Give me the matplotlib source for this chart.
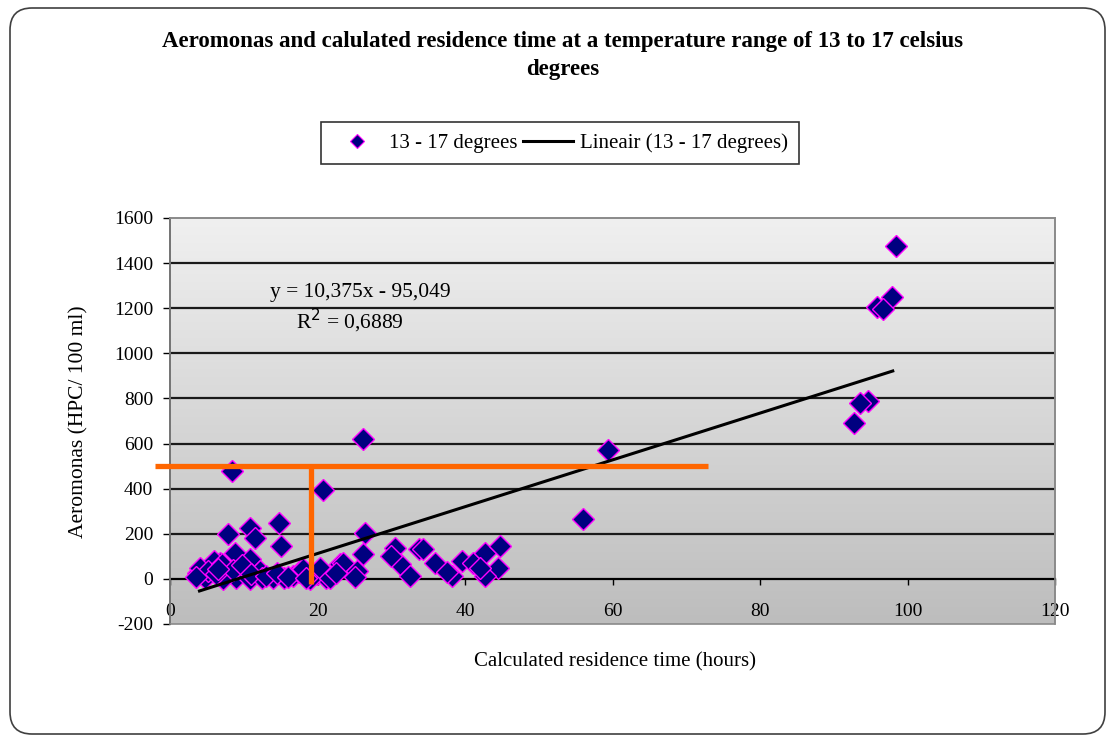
import numpy as np
import matplotlib
matplotlib.use("Agg")
import matplotlib.pyplot as plt
from matplotlib.patches import FancyBboxPatch, Rectangle
from matplotlib.transforms import IdentityTransform
from matplotlib.lines import Line2D
from matplotlib.colors import LinearSegmentedColormap

plt.rcParams['font.family'] = ['Liberation Serif', 'DejaVu Serif']
plt.rcParams['axes.unicode_minus'] = False

# ---- data ----
residence_hours = [98.5, 97.9, 95.8, 96.7, 94.7, 93.6, 92.7, 59.4, 56.0, 8.4, 26.2, 20.8,
                   7.9, 10.8, 14.8, 15.1, 11.5, 8.8, 10.8, 6.8, 5.4, 3.8, 4.7, 5.9, 4.1, 5.2,
                   7.0, 12.2, 16.7, 14.0, 19.9, 23.1, 21.2, 9.0, 7.2, 10.8, 12.5, 17.5, 6.2,
                   8.5, 9.8, 11.0, 13.0, 15.5, 18.0, 14.5, 16.0, 19.0, 3.5, 6.5,
                   26.4, 26.2, 23.5, 25.3, 20.3, 21.7, 18.5, 25.1, 22.5,
                   30.5, 33.7, 31.2, 32.5, 30.0, 34.3, 35.9, 38.2, 39.6, 41.1, 42.7, 44.7,
                   44.5, 42.7, 42.0, 37.5]
aeromonas = [1475, 1250, 1205, 1195, 790, 780, 690, 570, 265, 480, 620, 395,
             198, 227, 249, 145, 183, 116, 87, 72, 50, 28, 5, 80, 50, 35,
             65, 35, 13, 6, 21, 65, 6, 6, 0, 0, 5, 30, 20,
             40, 60, 20, 15, 5, 45, 25, 10, 0, 10, 45,
             205, 109, 72, 35, 50, 6, 6, 10, 25,
             139, 131, 65, 13, 100, 131, 72, 13, 80, 72, 116, 146,
             50, 13, 50, 30]
trend_slope = 10.375
trend_intercept = -95.049
trend_x = [4.0, 98.0]
r_squared = "0,6889"
x_ticks = [0, 20, 40, 60, 80, 100, 120]
y_ticks = [-200, 0, 200, 400, 600, 800, 1000, 1200, 1400, 1600]
threshold_y = 500
threshold_x = 19.1
threshold_hline_x = [-2.0, 72.9]
threshold_vline_y = [500, -22]

W, H = 1110, 737
fig = plt.figure(figsize=(W / 100, H / 100), dpi=100)
fig.patch.set_facecolor('white')

# rounded outer border
border = FancyBboxPatch((10, 3), 1095, 726, boxstyle="round,pad=0,rounding_size=22",
                        transform=IdentityTransform(), facecolor='none',
                        edgecolor='#404040', linewidth=1.2, zorder=0)
fig.patches.append(border)

ax = fig.add_axes([170 / W, 1 - 624 / H, 885 / W, 406 / H])

# gradient background (light at top, darker at bottom)
grad = np.linspace(1, 0, 256).reshape(-1, 1)
cmap = LinearSegmentedColormap.from_list('g', ['#f0f0f0', '#bdbdbd'])
ax.imshow(grad, extent=[0, 120, -200, 1600], cmap=cmap, aspect='auto',
          origin='lower', zorder=0, interpolation='bicubic')
ax.set_xlim(0, 120)
ax.set_ylim(-200, 1600)

# gridlines
for yv in y_ticks:
    if -200 < yv < 1600 and yv != 0:
        ax.axhline(yv, color='#1a1a1a', lw=1.6, zorder=1)

# frame
for s in ['top', 'right']:
    ax.spines[s].set_color('#8a8a8a')
    ax.spines[s].set_linewidth(1.2)
ax.spines['left'].set_color('black')
ax.spines['left'].set_linewidth(1.3)
ax.spines['bottom'].set_position(('data', 0))
ax.spines['bottom'].set_color('black')
ax.spines['bottom'].set_linewidth(1.6)
ax.add_patch(Rectangle((0, 0), 1, 1, transform=ax.transAxes, fill=False,
                       edgecolor='#8a8a8a', lw=1.2, zorder=5, clip_on=False))

ax.set_xticks(x_ticks)
ax.set_yticks(y_ticks)
ax.tick_params(axis='x', direction='out', length=4, width=1, pad=13, labelsize=14)
ax.tick_params(axis='y', direction='out', length=5, width=1, pad=7, labelsize=14)

# scatter
ax.plot(residence_hours, aeromonas, linestyle='none', marker='D', markersize=11.5,
        markerfacecolor='#000080', markeredgecolor='#ff00ff', markeredgewidth=1.0,
        zorder=3, clip_on=False)

# trend line
tx = np.array(trend_x)
ax.plot(tx, trend_slope * tx + trend_intercept, color='black', lw=2.2, zorder=4)

# orange annotation lines
ax.plot(threshold_hline_x, [threshold_y, threshold_y], color='#ff6600', lw=3.8,
        zorder=6, clip_on=False, solid_capstyle='butt')
ax.plot([threshold_x, threshold_x], threshold_vline_y, color='#ff6600', lw=3.8,
        zorder=6, clip_on=False, solid_capstyle='butt')

# equation
ax.text(25.8, 1270, "y = 10,375x - 95,049", fontsize=15.5, ha='center', va='center', zorder=7)
ax.text(24.4, 1145, "R$^{2}$ = " + r_squared, fontsize=15.5, ha='center', va='center', zorder=7)

ax.set_xlabel("Calculated residence time (hours)", fontsize=15)
ax.xaxis.set_label_coords((615 - 170) / 885, (624 - 652) / 406)
ax.set_ylabel("Aeromonas (HPC/ 100 ml)", fontsize=15.5)
ax.yaxis.set_label_coords((88 - 170) / 885, (624 - 422) / 406)

# title
fig.text(563 / W, 1 - 42 / H, "Aeromonas and calulated residence time at a temperature range of 13 to 17 celsius",
         ha='center', va='center', fontsize=16.5, fontweight='bold')
fig.text(563 / W, 1 - 70 / H, "degrees", ha='center', va='center', fontsize=16.5, fontweight='bold')

# legend
h1 = Line2D([], [], linestyle='none', marker='D', markersize=7,
            markerfacecolor='#000080', markeredgecolor='#ff00ff', markeredgewidth=0.8)
h2 = Line2D([], [], color='black', lw=2.2)
leg = fig.legend([h1, h2], ["13 - 17 degrees", "Lineair (13 - 17 degrees)"],
                 loc='center', bbox_to_anchor=(560 / W, 1 - 143 / H), ncol=2,
                 fontsize=15, frameon=True, fancybox=False, edgecolor='black',
                 handlelength=2.4, columnspacing=0.3, handletextpad=0.3,
                 borderpad=0.55)
leg.get_frame().set_linewidth(1.2)

fig.savefig("out.png", dpi=100)
